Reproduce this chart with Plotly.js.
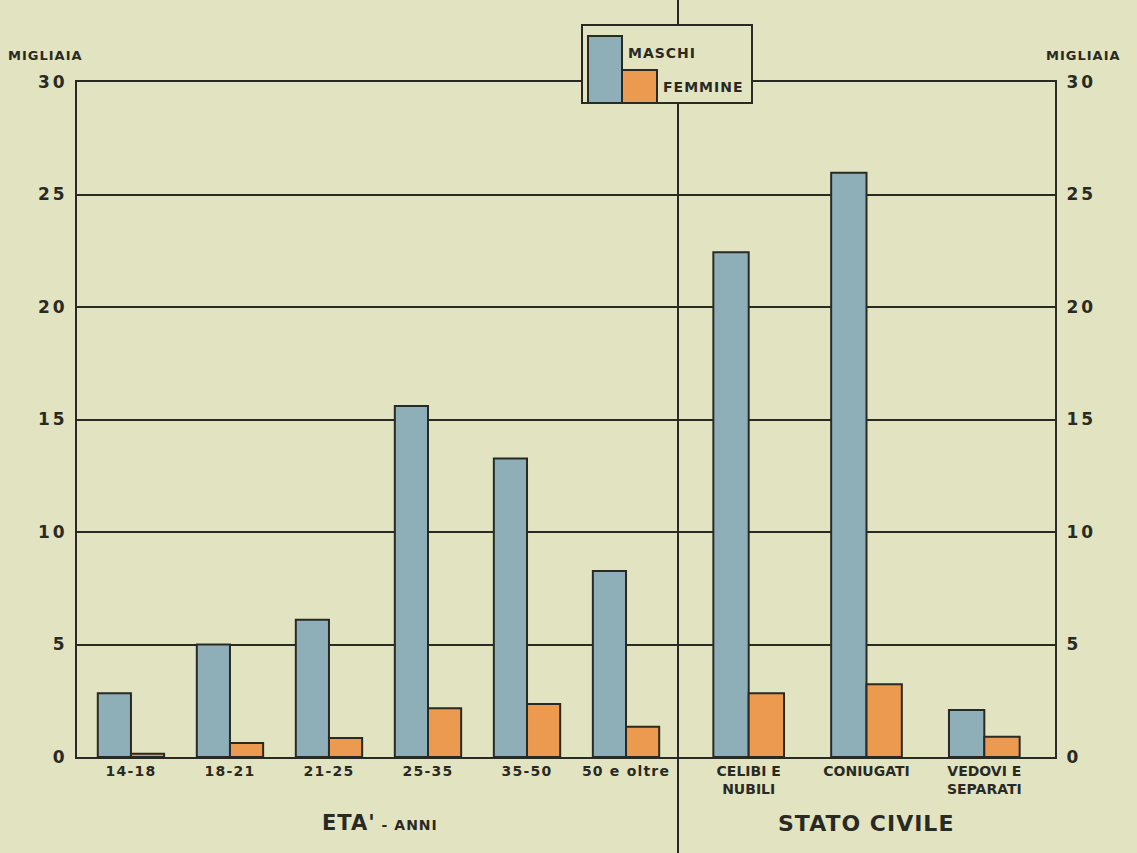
<!DOCTYPE html>
<html>
<head>
<meta charset="utf-8">
<script src="https://cdn.plot.ly/plotly-3.0.1.min.js"></script>
<style>
html,body{margin:0;padding:0;background:#e2e4c1;}
#chart{width:1137px;height:853px;}
.xtick text{letter-spacing:1.2px;}
.ytick text, .y2tick text{letter-spacing:3px;}
.annotation-text{letter-spacing:1px;}
</style>
</head>
<body>
<div id="chart"></div>
<script>
// Data
const ageCategories = ['14-18', '18-21', '21-25', '25-35', '35-50', '50 e oltre'];
const ageMaschi = [2.83, 5.0, 6.1, 15.6, 13.27, 8.27];
const ageFemmine = [0.15, 0.62, 0.84, 2.17, 2.36, 1.35];

const civilCategories = ['CELIBI E<br>NUBILI', 'CONIUGATI', 'VEDOVI E<br>SEPARATI'];
const civilMaschi = [22.43, 25.97, 2.09];
const civilFemmine = [2.83, 3.23, 0.90];

const yTicks = [0, 5, 10, 15, 20, 25, 30];
const seriesNames = ['MASCHI', 'FEMMINE'];

const BG = '#e2e4c1';
const INK = '#2a2a24';
const BLUE = '#8eafb8';
const ORANGE = '#eb9a50';
const FONT = 'DejaVu Sans, sans-serif';

function barTrace(x, y, xa, color, name, offset, width) {
  return {
    type: 'bar', x: x, y: y, xaxis: xa, yaxis: 'y', name: name,
    marker: {color: color, line: {color: INK, width: 2}},
    offset: offset, width: width, showlegend: false, hoverinfo: 'x+y'
  };
}

const wL = 0.335, wR = 0.30;
const data = [
  barTrace(ageCategories, ageMaschi, 'x', BLUE, seriesNames[0], -wL, wL),
  barTrace(ageCategories, ageFemmine, 'x', ORANGE, seriesNames[1], 0, wL),
  barTrace(civilCategories, civilMaschi, 'x2', BLUE, seriesNames[0], -wR, wR),
  barTrace(civilCategories, civilFemmine, 'x2', ORANGE, seriesNames[1], 0, wR),
  // invisible trace to activate right axis
  {type: 'scatter', x: [ageCategories[0]], y: [0], xaxis: 'x', yaxis: 'y2', mode: 'markers',
   marker: {opacity: 0}, showlegend: false, hoverinfo: 'skip'}
];

const split = (678 - 77) / 978;
const tickFont = {family: FONT, size: 14, color: INK, weight: 'bold'};
const yFont = {family: FONT, size: 17, color: INK, weight: 'bold'};

const legY0 = (757 - 103) / 675, legY1 = (757 - 25) / 675;
const px = v => (v - 77) / 978;
const py = v => (757 - v) / 675;

const layout = {
  width: 1137, height: 853,
  paper_bgcolor: BG, plot_bgcolor: BG,
  margin: {l: 77, r: 82, t: 82, b: 96},
  showlegend: false,
  bargap: 0,
  barmode: 'overlay',
  xaxis: {
    domain: [0, split], type: 'category', range: [-0.545, 5.525],
    showline: true, mirror: true, linecolor: INK, linewidth: 2, ticks: '', showgrid: false,
    tickfont: tickFont, zeroline: false, fixedrange: true
  },
  xaxis2: {
    domain: [split, 1], anchor: 'y', type: 'category', range: [-0.6, 2.6],
    showline: true, mirror: true, linecolor: INK, linewidth: 2, ticks: '', showgrid: false,
    tickfont: tickFont, zeroline: false, fixedrange: true
  },
  yaxis: {
    range: [0, 30], tickvals: yTicks, ticktext: yTicks.map(String),
    showgrid: true, gridcolor: INK, gridwidth: 2,
    showline: true, linecolor: INK, linewidth: 2, ticks: '',
    tickfont: yFont, zeroline: false, ticklabelstandoff: 4, fixedrange: true
  },
  yaxis2: {
    range: [0, 30], tickvals: yTicks, ticktext: yTicks.map(String),
    overlaying: 'y', side: 'right', anchor: 'x2',
    showgrid: false, showline: true, linecolor: INK, linewidth: 2, ticks: '',
    tickfont: yFont, zeroline: false, ticklabelstandoff: 6, fixedrange: true
  },
  shapes: [
    // vertical divider (broken by legend box)
    {type: 'line', xref: 'paper', yref: 'paper', x0: split, x1: split, y0: -0.15, y1: legY0,
     line: {color: INK, width: 2}},
    {type: 'line', xref: 'paper', yref: 'paper', x0: split, x1: split, y0: legY1, y1: 1.13,
     line: {color: INK, width: 2}},
    // legend box
    {type: 'rect', xref: 'paper', yref: 'paper', x0: px(582), x1: px(752), y0: legY0, y1: legY1,
     fillcolor: BG, line: {color: INK, width: 2}},
    {type: 'rect', xref: 'paper', yref: 'paper', x0: px(588), x1: px(622), y0: legY0, y1: py(36),
     fillcolor: BLUE, line: {color: INK, width: 2}},
    {type: 'rect', xref: 'paper', yref: 'paper', x0: px(622), x1: px(657), y0: legY0, y1: py(70),
     fillcolor: ORANGE, line: {color: INK, width: 2}}
  ],
  annotations: [
    {xref: 'paper', yref: 'paper', x: px(626), y: py(53), xanchor: 'left', yanchor: 'middle',
     text: seriesNames[0], showarrow: false, font: {family: FONT, size: 14, color: INK, weight: 'bold'}},
    {xref: 'paper', yref: 'paper', x: px(661), y: py(87), xanchor: 'left', yanchor: 'middle',
     text: seriesNames[1], showarrow: false, font: {family: FONT, size: 14, color: INK, weight: 'bold'}},
    {xref: 'paper', yref: 'paper', x: px(45), y: py(56), xanchor: 'center', yanchor: 'middle',
     text: 'MIGLIAIA', showarrow: false, font: {family: FONT, size: 13, color: INK, weight: 'bold'}},
    {xref: 'paper', yref: 'paper', x: px(1083), y: py(56), xanchor: 'center', yanchor: 'middle',
     text: 'MIGLIAIA', showarrow: false, font: {family: FONT, size: 13, color: INK, weight: 'bold'}},
    {xref: 'paper', yref: 'paper', x: px(380), y: py(823), xanchor: 'center', yanchor: 'middle',
     text: "ETA'<span style='font-size:14px'> - ANNI</span>", showarrow: false,
     font: {family: FONT, size: 21, color: INK, weight: 'bold'}},
    {xref: 'paper', yref: 'paper', x: px(866), y: py(823), xanchor: 'center', yanchor: 'middle',
     text: 'STATO CIVILE', showarrow: false, font: {family: FONT, size: 22, color: INK, weight: 'bold'}}
  ]
};

Plotly.newPlot('chart', data, layout, {displayModeBar: false, staticPlot: true});
</script>
</body>
</html>
